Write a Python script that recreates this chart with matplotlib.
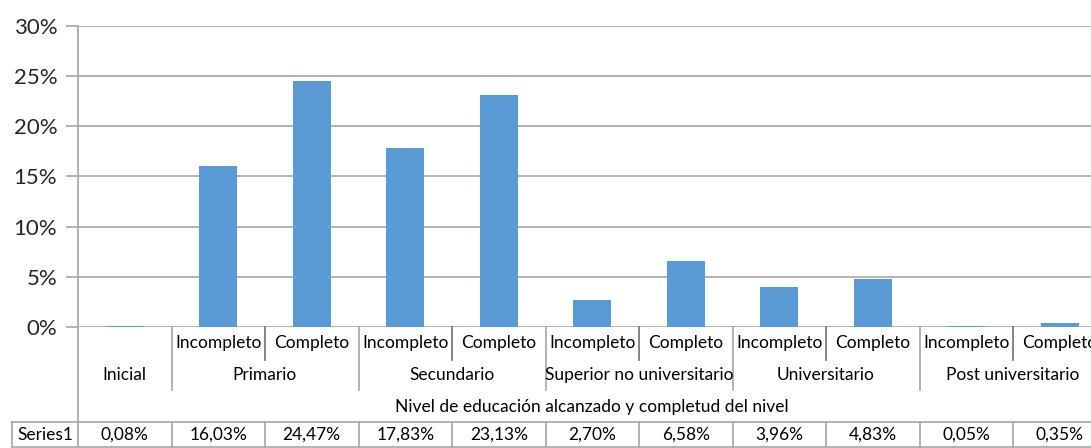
import matplotlib.pyplot as plt
from matplotlib.transforms import blended_transform_factory

plt.rcParams['font.family'] = ['Lato', 'DejaVu Sans']

# Nivel de educación alcanzado y completud del nivel
groups = ["Inicial", "Primario", "Secundario", "Superior no universitario",
          "Universitario", "Post universitario"]
sub_labels = ["", "Incompleto", "Completo", "Incompleto", "Completo", "Incompleto",
              "Completo", "Incompleto", "Completo", "Incompleto", "Completo"]
values = [0.08, 16.03, 24.47, 17.83, 23.13, 2.70, 6.58, 3.96, 4.83, 0.05, 0.35]
value_labels = ["0,08%", "16,03%", "24,47%", "17,83%", "23,13%", "2,70%",
                "6,58%", "3,96%", "4,83%", "0,05%", "0,35%"]
yticks = [0, 5, 10, 15, 20, 25, 30]

W, H = 1091, 448
bar_color = "#5B9BD5"
line_color = "#A6A6A6"
fs = 12.5

fig = plt.figure(figsize=(W / 100, H / 100), dpi=100)
slot = 93.5
ax = fig.add_axes([78 / W, (H - 327) / H, slot * len(values) / W, 301 / H])

x = [i + 0.5 for i in range(len(values))]
ax.bar(x, values, width=0.41, color=bar_color, zorder=3)

ax.set_xlim(0, len(values))
ax.set_ylim(0, 30)
ax.set_yticks(yticks)
ax.set_yticklabels([f"{t}%" for t in yticks], fontsize=16, color="#262626")
ax.set_xticks([])
ax.yaxis.grid(True, color=line_color, linewidth=1.2, zorder=0)
ax.tick_params(axis="y", length=9, width=1.2, color=line_color, pad=6)
for side in ["top", "right", "bottom"]:
    ax.spines[side].set_visible(False)
ax.spines["left"].set_color(line_color)
ax.spines["left"].set_linewidth(1.2)

# table below the axis: x in data units, y in figure pixels from the top
tr = blended_transform_factory(ax.transData, fig.transFigure)


def fy(py):
    return (H - py) / H


def vline(xd, y0, y1, color=line_color):
    ax.plot([xd, xd], [fy(y0), fy(y1)], transform=tr, color=color,
            linewidth=1.2, clip_on=False)


# axis line continues through the category rows
vline(0, 327, 446)
# separators between Incompleto / Completo
for i in range(2, len(values), 2):
    vline(i, 327, 360, color="#707070")
# separators between groups
for i in [1, 3, 5, 7, 9]:
    vline(i, 327, 390)

for xi, lab in zip(x, sub_labels):
    ax.text(xi, fy(343), lab, transform=tr, ha="center", va="center",
            fontsize=fs, color="black")

group_pos = [0.5, 2, 4, 6, 8, 10]
for gx, g in zip(group_pos, groups):
    ax.text(gx, fy(375), g, transform=tr, ha="center", va="center",
            fontsize=fs, color="black")

ax.text(len(values) / 2, fy(407),
        "Nivel de educación alcanzado y completud del nivel",
        transform=tr, ha="center", va="center", fontsize=fs, color="black")

# Series1 row
row_top, row_bot = 422, 447
fig.add_artist(plt.Line2D([12 / W, 1], [fy(row_top), fy(row_top)],
                          color=line_color, linewidth=1.2))
fig.add_artist(plt.Line2D([12 / W, 1], [fy(row_bot), fy(row_bot)],
                          color=line_color, linewidth=1.2))
fig.add_artist(plt.Line2D([12 / W, 12 / W], [fy(row_top), fy(row_bot)],
                          color=line_color, linewidth=1.2))
for i in range(1, len(values)):
    vline(i, row_top, row_bot)
fig.text(45 / W, fy(435), "Series1", ha="center", va="center",
         fontsize=fs, color="black")
for xi, lab in zip(x, value_labels):
    ax.text(xi, fy(435), lab, transform=tr, ha="center", va="center",
            fontsize=fs, color="black")

fig.savefig("out.png", dpi=100)
